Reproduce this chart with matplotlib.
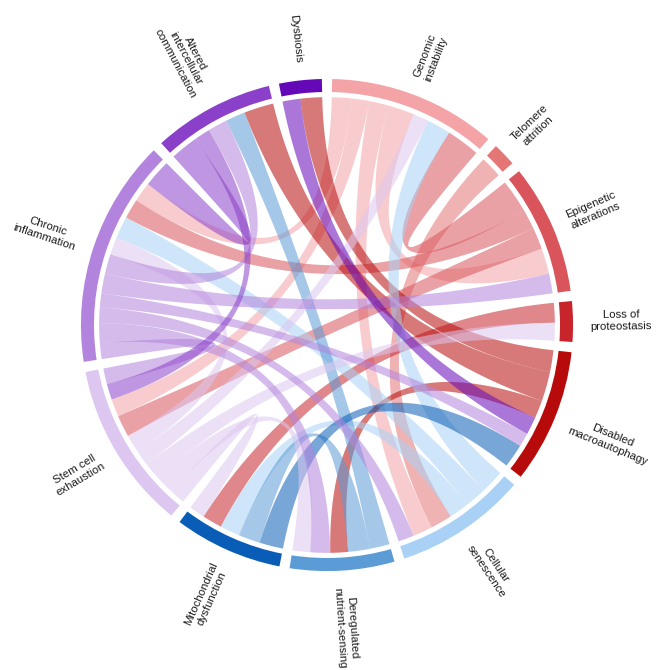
import numpy as np
import matplotlib.pyplot as plt
from matplotlib.patches import Polygon, Wedge

plt.rcParams['font.family'] = ['Liberation Sans', 'DejaVu Sans']

labels = ["Genomic\ninstability", "Telomere\nattrition", "Epigenetic\nalterations",
          "Loss of\nproteostasis", "Disabled\nmacroautophagy", "Cellular\nsenescence",
          "Deregulated\nnutrient-sensing", "Mitochondrial\ndysfunction", "Stem cell\nexhaustion",
          "Chronic\ninflammation", "Altered\nintercellular\ncommunication", "Dysbiosis"]
colors = ['#F4A3A6', '#E57676', '#D9545B', '#C8242C', '#B70B0B', '#A9D1F5',
          '#5B9BD6', '#0A5DB6', '#DDC7F0', '#B384DD', '#8B40C9', '#6508B8']

# links: (from, to, value); chord coloured by "from"
G, T, E, L, D, C, R, M, S, CH, A, Y = range(12)
links = [
    (G, C, 5), (G, S, 4.5), (G, CH, 5), (G, E, 6.5),
    (T, C, 5.5),
    (E, G, 8.5), (E, CH, 5), (E, S, 5.5),
    (L, M, 5),
    (D, A, 7.5), (D, Y, 5.5), (D, R, 4.5),
    (C, G, 6), (C, CH, 5.5), (C, M, 5),
    (R, A, 5), (R, M, 5.5),
    (M, D, 6),
    (S, G, 4), (S, L, 4.5), (S, R, 4.5), (S, M, 4), (S, CH, 4.5),
    (CH, S, 4), (CH, C, 4), (CH, E, 5), (CH, A, 5), (CH, D, 3.5), (CH, R, 5),
    (A, CH, 7), (A, S, 4),
    (Y, D, 4.5),
]

n = len(labels)
totals = np.zeros(n)
for a, b, v in links:
    totals[a] += v
    totals[b] += v

gap = 2.4
unit = (360 - n * gap) / totals.sum()
starts = np.zeros(n)
ang = gap / 2
for i in range(n):
    starts[i] = ang
    ang += totals[i] * unit + gap

# place link ends inside each group: outgoing first, then incoming,
# each sorted by how far (clockwise) the other group is
ends = {}
for g in range(n):
    outs = [(k, (b - g) % n) for k, (a, b, v) in enumerate(links) if a == g]
    ins = [(k, (a - g) % n) for k, (a, b, v) in enumerate(links) if b == g]
    outs.sort(key=lambda t: -t[1])
    ins.sort(key=lambda t: -t[1])
    pos = starts[g]
    for k, _ in outs:
        w = links[k][2] * unit
        ends[(k, 'out')] = (pos, pos + w)
        pos += w
    for k, _ in ins:
        w = links[k][2] * unit
        ends[(k, 'in')] = (pos, pos + w)
        pos += w

def pt(theta, r):
    t = np.radians(theta)
    return np.array([r * np.sin(t), r * np.cos(t)])

def arc(t0, t1, r, num=30):
    return [pt(t, r) for t in np.linspace(t0, t1, num)]

def bez(p0, p2, num=60):
    s = np.linspace(0, 1, num)[:, None]
    return list((1 - s) ** 2 * p0 + s ** 2 * p2)

rc = 0.978
fig = plt.figure(figsize=(6.6, 6.7), dpi=100)
ax = fig.add_axes([0, 0, 1, 1])
sc = 233.0
ax.set_xlim(-327 / sc, 333 / sc)
ax.set_ylim(-345 / sc, 325 / sc)
ax.set_aspect('equal')
ax.axis('off')

for k, (a, b, v) in enumerate(links):
    s0, s1 = ends[(k, 'out')]
    t0, t1 = ends[(k, 'in')]
    pts = arc(s0, s1, rc) + bez(pt(s1, rc), pt(t0, rc)) + arc(t0, t1, rc) + bez(pt(t1, rc), pt(s0, rc))
    ax.add_patch(Polygon(np.array(pts), closed=True, facecolor=colors[a], alpha=0.55,
                         edgecolor='none'))

for i in range(n):
    th0 = starts[i]
    th1 = starts[i] + totals[i] * unit
    ax.add_patch(Wedge((0, 0), 1.056, 90 - th1, 90 - th0, width=0.056,
                       facecolor=colors[i], edgecolor='none'))
    mid = (th0 + th1) / 2
    x, y = pt(mid, 1.13)
    if mid < 180:
        rot, ha = 90 - mid, 'left'
    else:
        rot, ha = 270 - mid, 'right'
    ax.text(x, y, labels[i], rotation=rot, rotation_mode='anchor', ha=ha, va='center',
            multialignment='center', fontsize=8.2, color='#1a1a1a')

fig.savefig('out.png', dpi=100, facecolor='white')
